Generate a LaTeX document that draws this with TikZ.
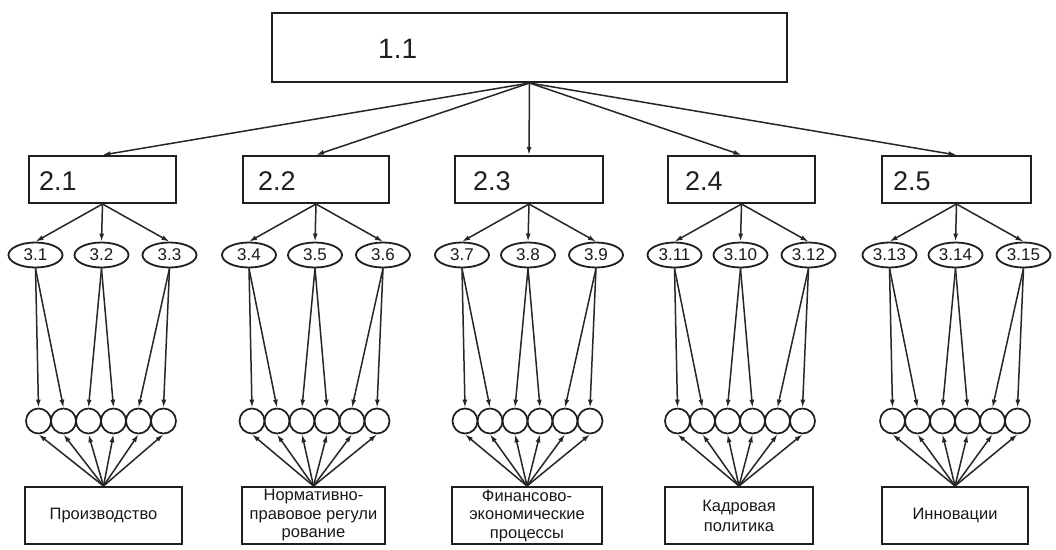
\documentclass[tikz,border=0pt]{standalone}
\usepackage{fontspec}
\setmainfont{Liberation Sans}
\usetikzlibrary{shapes.geometric,arrows.meta}
\begin{document}
\begin{tikzpicture}[x=1pt,y=-1pt,
  box/.style={draw=black!88, line width=2pt, rectangle, inner sep=0pt},
  fbox/.style={box, align=center, text=black!90, font=\fontsize{16.5}{18.5}\selectfont},
  lbl/.style={inner sep=0pt, anchor=west, text=black!88},
  ell/.style={draw=black!88, line width=1.8pt, ellipse, minimum width=54pt, minimum height=25pt, inner sep=0pt, text=black!90, font=\fontsize{17}{17}\selectfont},
  circ/.style={draw=black!88, line width=1.7pt, circle, minimum size=25pt, inner sep=0pt},
  arr/.style={draw=black!85, line width=1.5pt, -{Latex[length=8pt,width=5pt]}},
]
\useasboundingbox (0,0) rectangle (1056,549);
\fill[white] (0,0) rectangle (1056,549);

% level 1
\node[box, minimum width=515pt, minimum height=69pt] (top) at (529.5,47.5) {};
\node[lbl, font=\fontsize{28}{28}\selectfont] (t11) at (378,49) {1.1};

% level 2
\node[box, minimum width=147pt, minimum height=47pt] (b1) at (102.5,179.5) {};
\node[box, minimum width=146pt, minimum height=47pt] (b2) at (316,179.5) {};
\node[box, minimum width=148pt, minimum height=47pt] (b3) at (529,179.5) {};
\node[box, minimum width=147pt, minimum height=47pt] (b4) at (741.5,179.5) {};
\node[box, minimum width=149pt, minimum height=47pt] (b5) at (956.5,179.5) {};
\node[lbl, font=\fontsize{27}{27}\selectfont] (l1) at (39,181) {2.1};
\node[lbl, font=\fontsize{27}{27}\selectfont] (l2) at (258,181) {2.2};
\node[lbl, font=\fontsize{27}{27}\selectfont] (l3) at (473,181) {2.3};
\node[lbl, font=\fontsize{27}{27}\selectfont] (l4) at (685,181) {2.4};
\node[lbl, font=\fontsize{27}{27}\selectfont] (l5) at (893,181) {2.5};

% bottom boxes
\node[fbox, minimum width=157pt, minimum height=57pt] (f1) at (103.5,515.5) {Производство};
\node[fbox, minimum width=143pt, minimum height=57pt] (f2) at (313.5,515.5) {Нормативно-\\правовое регули\\рование};
\node[fbox, minimum width=150pt, minimum height=57pt] (f3) at (527,515.5) {Финансово-\\экономические\\процессы};
\node[fbox, minimum width=148pt, minimum height=57pt] (f4) at (739,515.5) {Кадровая\\[1.5pt]политика};
\node[fbox, minimum width=146pt, minimum height=57pt] (f5) at (955,515.5) {Инновации};

\foreach \g in {1,...,5} \draw[arr] (top.south) -- (b\g.north);

\foreach \g/\cx/\la/\lb/\lc in {1/102.5/3.1/3.2/3.3, 2/316/3.4/3.5/3.6, 3/529/3.7/3.8/3.9, 4/741.5/3.11/3.10/3.12, 5/956.5/3.13/3.14/3.15} {
  \node[ell] (e\g-1) at (\cx-67,255) {\la};
  \node[ell] (e\g-2) at (\cx-1,255) {\lb};
  \node[ell] (e\g-3) at (\cx+67,255) {\lc};
  \foreach \j in {1,...,6} \node[circ] (c\g-\j) at ({\cx-89+25*\j},421) {};
  \draw[arr] (b\g.south) -- (e\g-1.north);
  \draw[arr] (b\g.south) -- (e\g-2.north);
  \draw[arr] (b\g.south) -- (e\g-3.north);
  \draw[arr] (e\g-1.south) -- (c\g-1.north);
  \draw[arr] (e\g-1.south) -- (c\g-2.north);
  \draw[arr] (e\g-2.south) -- (c\g-3.north);
  \draw[arr] (e\g-2.south) -- (c\g-4.north);
  \draw[arr] (e\g-3.south) -- (c\g-5.north);
  \draw[arr] (e\g-3.south) -- (c\g-6.north);
  \foreach \j in {1,...,6} \draw[arr] (f\g.north) -- (c\g-\j.south);
}
\end{tikzpicture}
\end{document}
